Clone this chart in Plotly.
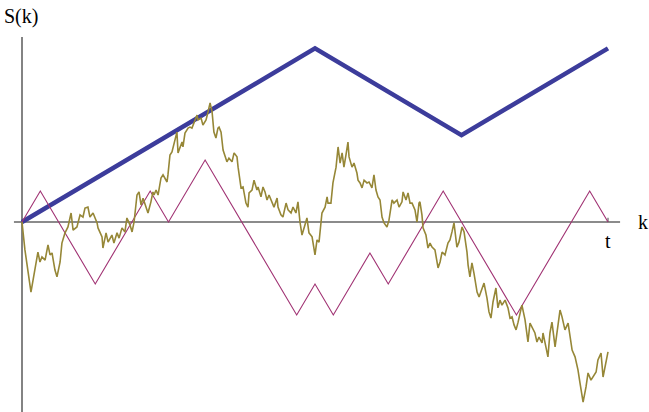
import plotly.graph_objects as go

# ---- data ----
# simple random walk (32 steps), vertices only
walk_k = [0, 1, 4, 7, 8, 10, 15, 16, 17, 19, 20, 23, 27, 31, 32]
walk_s = [0, 1, -2, 1, 0, 2, -3, -2, -3, -1, -2, 1, -3, 1, 0]

# envelope (thick blue)
env_k = [0, 16, 24, 32]
env_s = [0, 5.6, 2.8, 5.6]

# fine-grained path (olive)
path_k = [0, 0.16, 0.49, 0.71, 0.87, 0.98, 1.09, 1.26, 1.42, 1.53, 1.64, 1.80, 1.91, 2.08, 2.18, 2.35,
          2.51, 2.68, 2.79, 3.00, 3.17, 3.33, 3.44, 3.60, 3.71, 3.88, 4.10, 4.15, 4.37, 4.42, 4.59, 4.70,
          4.91, 5.02, 5.19, 5.30, 5.46, 5.62, 5.73, 5.90, 6.01, 6.12, 6.28, 6.39, 6.50, 6.61, 6.77, 6.88,
          7.04, 7.15, 7.21, 7.32, 7.43, 7.59, 7.70, 7.92, 7.97, 8.08, 8.19, 8.36, 8.46, 8.52, 8.74, 8.79,
          8.90, 9.07, 9.17, 9.28, 9.45, 9.56, 9.61, 9.78, 9.88, 10.05, 10.16, 10.27, 10.38, 10.48, 10.59, 10.70,
          10.76, 10.87, 10.98, 11.19, 11.30, 11.47, 11.58, 11.74, 11.80, 11.96, 12.07, 12.23, 12.34, 12.40, 12.56, 12.67,
          12.83, 12.89, 13.05, 13.16, 13.27, 13.38, 13.49, 13.65, 13.76, 13.93, 13.98, 14.14, 14.25, 14.42, 14.53, 14.69,
          14.80, 14.96, 15.07, 15.18, 15.29, 15.45, 15.56, 15.67, 15.84, 16.00, 16.11, 16.22, 16.38, 16.55, 16.66, 16.71,
          16.87, 16.98, 17.15, 17.26, 17.37, 17.48, 17.58, 17.69, 17.80, 17.86, 18.02, 18.13, 18.29, 18.35, 18.46, 18.57,
          18.68, 18.84, 18.95, 19.11, 19.22, 19.33, 19.44, 19.55, 19.66, 19.77, 19.93, 20.04, 20.21, 20.31, 20.48, 20.59,
          20.75, 20.81, 20.97, 21.08, 21.19, 21.30, 21.46, 21.57, 21.68, 21.73, 21.84, 21.90, 22.06, 22.17, 22.28, 22.39,
          22.55, 22.72, 22.83, 22.94, 23.10, 23.26, 23.37, 23.48, 23.59, 23.75, 23.86, 24.03, 24.14, 24.30, 24.36, 24.46,
          24.57, 24.68, 24.85, 24.96, 25.12, 25.23, 25.39, 25.50, 25.61, 25.72, 25.88, 25.99, 26.10, 26.21, 26.38, 26.54,
          26.65, 26.76, 26.87, 26.98, 27.09, 27.20, 27.30, 27.47, 27.63, 27.74, 27.85, 28.01, 28.12, 28.23, 28.40, 28.45,
          28.62, 28.72, 28.83, 28.94, 29.11, 29.27, 29.38, 29.49, 29.65, 29.82, 29.93, 30.04, 30.20, 30.36, 30.47, 30.64,
          30.80, 30.91, 31.07, 31.18, 31.35, 31.45, 31.62, 31.73, 31.89, 32.00]
path_s = [0, -0.90, -2.26, -1.55, -0.97, -1.29, -1.13, -1.23, -0.74, -1.06, -1.00, -1.55, -1.77, -1.29, -0.68, -0.35,
          -0.16, 0.29, -0.26, -0.16, 0.23, 0.16, 0.45, 0.48, 0.16, 0.29, -0.03, -0.19, -0.48, -0.84, -0.35, -0.65,
          -0.42, -0.68, -0.35, -0.52, -0.19, -0.32, 0.13, -0.10, -0.32, 0.00, 0.87, 0.97, 0.55, 0.77, 0.45, 0.29,
          0.65, 0.97, 0.87, 1.03, 0.87, 1.42, 1.52, 1.29, 1.52, 2.16, 2.26, 2.65, 2.90, 2.23, 2.58, 2.42,
          2.87, 3.03, 3.06, 3.03, 3.29, 3.45, 3.29, 3.35, 3.13, 3.29, 3.55, 3.84, 3.55, 2.90, 2.71, 3.03,
          3.06, 2.90, 2.32, 1.94, 2.06, 1.94, 2.23, 2.10, 1.77, 1.10, 1.13, 0.61, 0.48, 0.94, 1.03, 1.35,
          1.03, 1.13, 0.81, 1.13, 0.97, 0.71, 0.87, 0.65, 0.48, 0.77, 0.48, 0.23, 0.16, 0.61, 0.39, 0.29,
          0.48, 0.29, 0.65, 0.00, -0.42, -0.10, 0.13, -0.35, -0.48, -1.06, -0.58, -0.65, 0.29, 0.48, 0.81, 0.61,
          0.61, 1.26, 1.77, 2.42, 1.90, 2.23, 1.77, 2.16, 2.58, 2.10, 1.77, 1.90, 1.58, 1.35, 1.26, 1.10,
          1.35, 1.26, 1.29, 1.10, 1.52, 1.03, 0.81, 0.71, 0.16, -0.03, -0.16, 0.06, 0.71, 0.61, 0.71, 0.48,
          0.65, 0.97, 0.71, 0.94, 0.61, 0.61, 0.39, 0.00, 0.61, 0.65, 0.23, -0.19, -0.42, -0.84, -0.68, -0.81,
          -0.90, -1.48, -1.29, -0.97, -1.06, -0.68, -0.58, -0.32, -0.03, -0.81, -0.65, -0.16, -0.32, -0.97, -1.39, -1.77,
          -1.32, -1.65, -2.26, -2.42, -2.13, -1.97, -2.45, -2.90, -3.10, -2.58, -2.13, -2.77, -2.52, -2.68, -2.52, -2.77,
          -3.10, -3.06, -3.32, -3.48, -3.23, -2.94, -2.68, -3.16, -3.87, -3.26, -3.39, -3.58, -3.87, -3.71, -3.90, -3.58,
          -4.06, -4.35, -3.58, -3.23, -4.03, -3.39, -2.84, -3.06, -3.48, -3.26, -3.71, -4.13, -4.35, -4.77, -5.19, -5.81,
          -5.32, -4.87, -5.10, -5.00, -4.84, -4.45, -4.23, -5.00, -4.55, -4.19]

t_value = 32
axis_labels = {"x": "k", "y": "S(k)", "t": "t"}

# ---- figure ----
fig = go.Figure()
fig.add_trace(go.Scatter(x=env_k, y=env_s, mode="lines",
                         line=dict(color="rgb(60,60,155)", width=4.5), hoverinfo="skip"))
fig.add_trace(go.Scatter(x=walk_k, y=walk_s, mode="lines",
                         line=dict(color="rgb(160,50,115)", width=1.1), hoverinfo="skip"))
fig.add_trace(go.Scatter(x=path_k, y=path_s, mode="lines",
                         line=dict(color="rgb(150,135,55)", width=1.6), hoverinfo="skip"))

axis_col = "rgb(100,100,100)"
fig.add_shape(type="line", x0=-0.44, x1=32.66, y0=0, y1=0, layer="below",
              line=dict(color=axis_col, width=1.6))
fig.add_shape(type="line", x0=0, x1=0, y0=-6.2, y1=5.97, layer="below",
              line=dict(color=axis_col, width=1.6))
fig.add_shape(type="line", x0=t_value, x1=t_value, y0=0, y1=0.14, layer="below",
              line=dict(color=axis_col, width=1.2))

serif = "Liberation Serif"
fig.add_annotation(x=-1.2, y=7.16, xref="x", yref="y", text=axis_labels["y"], showarrow=False,
                   xanchor="left", yanchor="top", xshift=2, yshift=-3,
                   font=dict(family=serif, size=20, color="black"))
fig.add_annotation(x=33.9, y=0, text=axis_labels["x"], showarrow=False,
                   xanchor="center", yanchor="middle",
                   font=dict(family=serif, size=20, color="black"))
fig.add_annotation(x=t_value, y=0, text=axis_labels["t"], showarrow=False,
                   xanchor="center", yanchor="top", yshift=-6,
                   font=dict(family=serif, size=20, color="black"))

fig.update_layout(
    width=649, height=412,
    margin=dict(l=0, r=0, t=0, b=0),
    paper_bgcolor="white", plot_bgcolor="white",
    showlegend=False,
    xaxis=dict(range=[-1.2014, 34.239], visible=False, fixedrange=True),
    yaxis=dict(range=[-6.129, 7.161], visible=False, fixedrange=True),
)

fig.write_html("out.html")
